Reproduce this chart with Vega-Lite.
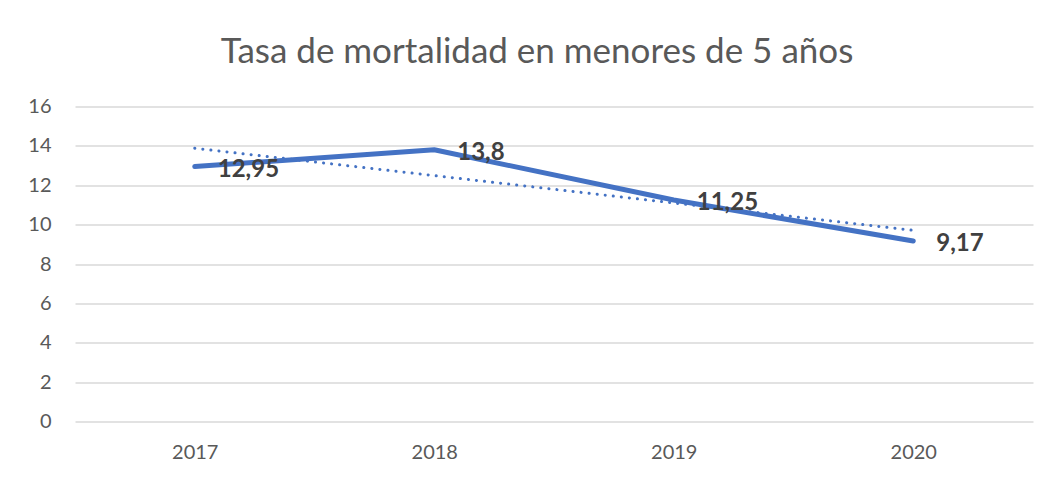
{
  "$schema": "https://vega.github.io/schema/vega-lite/v6.json",
  "width": 958,
  "height": 315,
  "autosize": {"type": "none"},
  "padding": {"left": 75, "top": 106.5, "right": 19, "bottom": 56.5},
  "background": "white",
  "config": {
    "view": {"stroke": null},
    "font": "Lato",
    "axisY": {
      "values": [0, 2, 4, 6, 8, 10, 12, 14, 16],
      "tickCount": 8,
      "labelOverlap": false,
      "title": null,
      "domain": false,
      "ticks": false,
      "labelPadding": 24,
      "labelFontSize": 20,
      "labelColor": "#595959",
      "labelFont": "Lato",
      "gridColor": "#d9d9d9",
      "gridWidth": 1.5
    }
  },
  "title": {
    "text": "Tasa de mortalidad en menores de 5 años",
    "font": "Lato",
    "fontSize": 35,
    "fontWeight": "normal",
    "color": "#595959",
    "anchor": "middle",
    "dx": -17,
    "offset": 27
  },
  "data": {
    "values": [
      {"year": "2017", "value": 12.95, "trend": 13.88, "label": "12,95"},
      {"year": "2018", "value": 13.8, "trend": 12.49, "label": "13,8"},
      {"year": "2019", "value": 11.25, "trend": 11.1, "label": "11,25"},
      {"year": "2020", "value": 9.17, "trend": 9.71, "label": "9,17"}
    ]
  },
  "encoding": {
    "x": {
      "field": "year",
      "type": "ordinal",
      "scale": {"type": "point", "padding": 0.5},
      "axis": {
        "title": null,
        "labelAngle": 0,
        "domain": false,
        "ticks": false,
        "labelPadding": 21,
        "labelFontSize": 20,
        "labelColor": "#595959",
        "labelFont": "Lato"
      }
    }
  },
  "layer": [
    {
      "mark": {"type": "line", "color": "#4472C4", "strokeWidth": 3, "strokeDash": [0.1, 8], "strokeCap": "round"},
      "encoding": {
        "y": {
          "field": "trend",
          "type": "quantitative",
          "scale": {"domain": [0, 16]}
        }
      }
    },
    {
      "mark": {"type": "line", "color": "#4472C4", "strokeWidth": 5, "strokeCap": "round", "strokeJoin": "round"},
      "encoding": {
        "y": {"field": "value", "type": "quantitative", "scale": {"domain": [0, 16]}}
      }
    },
    {
      "mark": {"type": "text", "align": "left", "baseline": "middle", "dx": 23, "dy": 3, "fontSize": 24, "fontWeight": "bold", "color": "#404040", "font": "Lato"},
      "encoding": {
        "y": {"field": "value", "type": "quantitative", "scale": {"domain": [0, 16]}},
        "text": {"field": "label"}
      }
    }
  ]
}
